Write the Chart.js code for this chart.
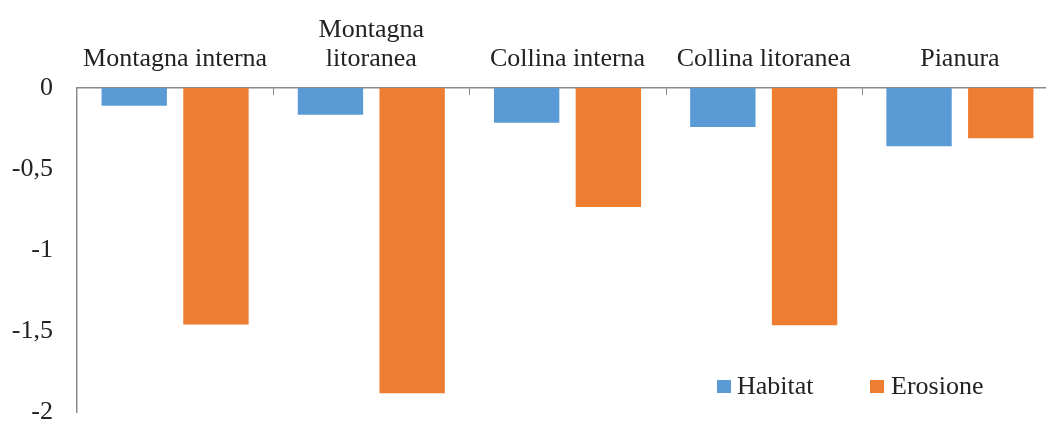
<!DOCTYPE html>
<html>
<head>
<meta charset="utf-8">
<script src="https://cdn.jsdelivr.net/npm/chart.js@4.4.1/dist/chart.umd.min.js"></script>
<style>
    html, body { margin: 0; padding: 0; background: #fff; overflow: hidden; }
    #wrap { position: relative; width: 1058px; height: 421px; }
    .leg-text { position: absolute; font: 26px 'Liberation Serif', 'Times New Roman', serif; color: #222; line-height: 26px; white-space: nowrap; }
    .leg-box { position: absolute; width: 14px; height: 13px; }
</style>
</head>
<body>
<div id="wrap">
    <canvas id="chart" width="1058" height="421"></canvas>
    <div id="legend"></div>
</div>
<script>
// ===== Data =====
const categories = ['Montagna interna', ['Montagna', 'litoranea'], 'Collina interna', 'Collina litoranea', 'Pianura'];
const habitat = [-0.11, -0.165, -0.215, -0.24, -0.36];
const erosione = [-1.46, -1.885, -0.735, -1.465, -0.31];
const yMin = -2;
const yMax = 0;
const yStep = 0.5;

const BLUE = '#5B9BD5';
const ORANGE = '#ED7D31';
const AXIS = '#8a8a8a';
const TEXT = '#222';
const FONT = "'Liberation Serif', 'Times New Roman', serif";

// Short tick marks pointing down from the top axis, at category boundaries
const innerTicks = {
    id: 'innerTicks',
    afterDraw(chart) {
        const x = chart.scales.x;
        const top = chart.chartArea.top;
        const ctx = chart.ctx;
        ctx.save();
        ctx.strokeStyle = AXIS;
        ctx.lineWidth = 1;
        for (let i = 1; i < categories.length; i++) {
            const px = Math.round((x.getPixelForTick(i - 1) + x.getPixelForTick(i)) / 2) + 0.5;
            ctx.beginPath();
            ctx.moveTo(px, top);
            ctx.lineTo(px, top + 7);
            ctx.stroke();
        }
        ctx.restore();
    }
};

const chart = new Chart(document.getElementById('chart').getContext('2d'), {
    type: 'bar',
    data: {
        labels: categories,
        datasets: [
            { label: 'Habitat', data: habitat, backgroundColor: BLUE, categoryPercentage: 0.833, barPercentage: 0.8 },
            { label: 'Erosione', data: erosione, backgroundColor: ORANGE, categoryPercentage: 0.833, barPercentage: 0.8 }
        ]
    },
    options: {
        responsive: false,
        animation: false,
        layout: { padding: { left: 0, right: 0, top: 0, bottom: 9 } },
        plugins: { legend: { display: false }, tooltip: { enabled: false } },
        scales: {
            x: {
                position: 'top',
                grid: { display: false },
                border: { display: true, color: AXIS, width: 1.5 },
                ticks: {
                    color: TEXT,
                    font: { family: FONT, size: 26, lineHeight: 1.12 },
                    padding: 6,
                    maxRotation: 0,
                    autoSkip: false
                },
                afterFit: s => { s.height = 88; s.paddingLeft = 0; s.paddingRight = 0; }
            },
            y: {
                min: yMin,
                max: yMax,
                grid: { display: false },
                border: { display: true, color: AXIS, width: 1.5 },
                ticks: {
                    stepSize: yStep,
                    color: TEXT,
                    font: { family: FONT, size: 26 },
                    padding: 16,
                    callback: v => String(v).replace('.', ',')
                },
                afterFit: s => { s.width = 77; s.paddingTop = 0; s.paddingBottom = 0; }
            }
        }
    },
    plugins: [innerTicks]
});

// ===== Legend (inside the plot, bottom right) =====
const legend = document.getElementById('legend');
const legendPos = [{ box: 717, text: 737 }, { box: 870, text: 891 }];
chart.data.datasets.forEach((ds, i) => {
    const box = document.createElement('div');
    box.className = 'leg-box';
    box.style.left = legendPos[i].box + 'px';
    box.style.top = '380px';
    box.style.background = ds.backgroundColor;
    legend.appendChild(box);
    const t = document.createElement('div');
    t.className = 'leg-text';
    t.style.left = legendPos[i].text + 'px';
    t.style.top = '373px';
    t.textContent = ds.label;
    legend.appendChild(t);
});
</script>
</body>
</html>
